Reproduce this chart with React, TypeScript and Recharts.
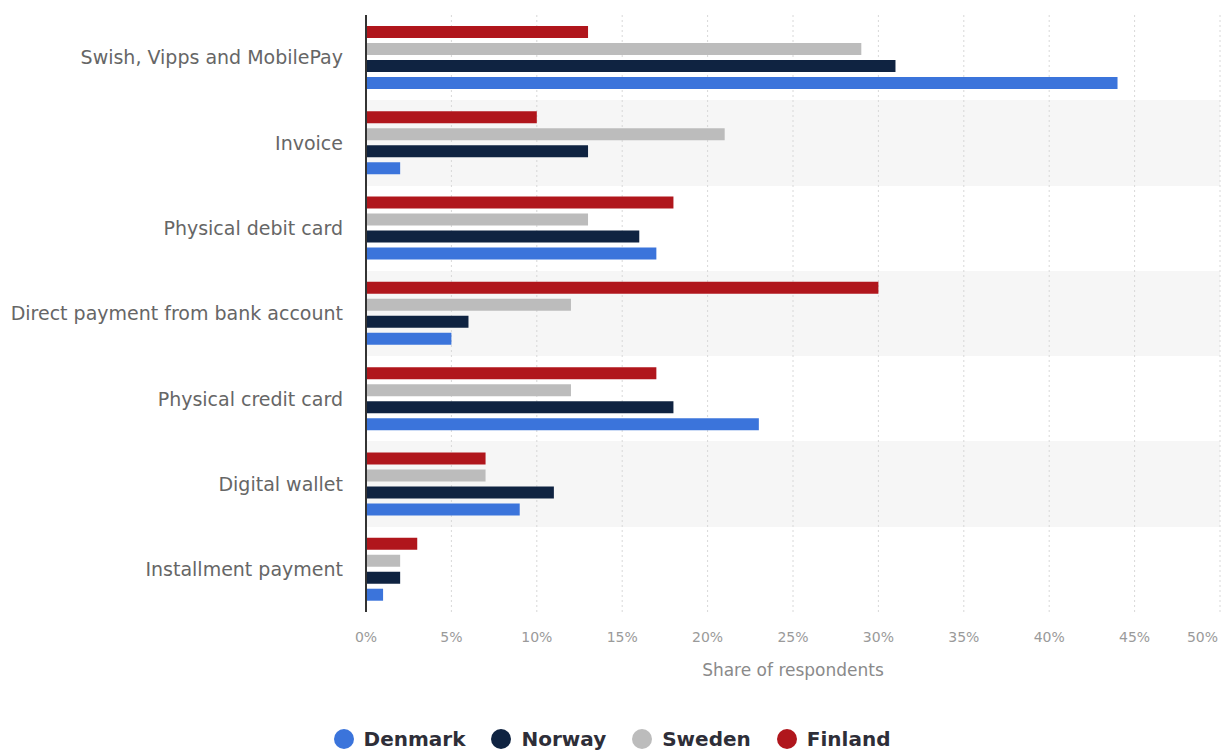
import React from 'react';
import {
  BarChart,
  Bar,
  XAxis,
  YAxis,
  CartesianGrid,
} from 'recharts';

const categories = [
  'Swish, Vipps and MobilePay',
  'Invoice',
  'Physical debit card',
  'Direct payment from bank account',
  'Physical credit card',
  'Digital wallet',
  'Installment payment',
];

const denmark = [44, 2, 17, 5, 23, 9, 1];
const norway = [31, 13, 16, 6, 18, 11, 2];
const sweden = [29, 21, 13, 12, 12, 7, 2];
const finland = [13, 10, 18, 30, 17, 7, 3];

const xTicks = [0, 5, 10, 15, 20, 25, 30, 35, 40, 45, 50];

// legend order (left to right)
const legendItems = [
  { name: 'Denmark', color: '#3b74db' },
  { name: 'Norway', color: '#0f2341' },
  { name: 'Sweden', color: '#bcbcbc' },
  { name: 'Finland', color: '#b0161c' },
];

const data = categories.map((name, i) => ({
  name,
  Denmark: denmark[i],
  Norway: norway[i],
  Sweden: sweden[i],
  Finland: finland[i],
}));

const FONT = '"DejaVu Sans", sans-serif';

// row boundaries, so every other category row gets a light band
const rowEdges = ({ offset }: any) =>
  categories.map((_, k) => offset.top + (k * offset.height) / categories.length);

const XTick = (props: any) => {
  const { x, y, payload, index } = props;
  const last = index === xTicks.length - 1;
  return (
    <text
      x={last ? x + 2 : x}
      y={y}
      dy="0.71em"
      textAnchor={last ? 'end' : 'middle'}
      fill="#9a9a9a"
      fontSize={14}
      fontFamily={FONT}
    >
      {`${payload.value}%`}
    </text>
  );
};

const App: React.FC = () => {
  return (
    <div style={{ position: 'absolute', left: 0, top: 0, width: 1224, height: 750, background: '#fff' }}>
      <BarChart
        width={1224}
        height={750}
        data={data}
        layout="vertical"
        margin={{ top: 15, right: 4, left: 0, bottom: 68 }}
        barSize={12}
        barGap={5}
      >
        <CartesianGrid
          vertical={false}
          stroke="transparent"
          horizontalFill={['#ffffff', '#f6f6f6']}
          fillOpacity={1}
          horizontalCoordinatesGenerator={rowEdges}
        />
        <CartesianGrid horizontal={false} stroke="#d8d8d8" strokeDasharray="2 3" />
        <XAxis
          type="number"
          domain={[0, 50]}
          ticks={xTicks}
          axisLine={false}
          tickLine={false}
          tickMargin={14}
          tick={<XTick />}
          height={70}
          label={{
            value: 'Share of respondents',
            position: 'insideBottom',
            offset: 6,
            fill: '#8a8a8a',
            fontSize: 17,
            fontFamily: FONT,
          }}
        />
        <YAxis
          type="category"
          dataKey="name"
          width={366}
          tickLine={false}
          tickMargin={17}
          axisLine={{ stroke: '#333', strokeWidth: 2 }}
          tick={{ fill: '#666', fontSize: 19, fontFamily: FONT }}
        />
        <Bar dataKey="Finland" fill="#b0161c" isAnimationActive={false} />
        <Bar dataKey="Sweden" fill="#bcbcbc" isAnimationActive={false} />
        <Bar dataKey="Norway" fill="#0f2341" isAnimationActive={false} />
        <Bar dataKey="Denmark" fill="#3b74db" isAnimationActive={false} />
      </BarChart>
      <div
        style={{
          position: 'absolute',
          top: 727,
          left: 0,
          width: 1224,
          display: 'flex',
          justifyContent: 'center',
          gap: 26,
          fontFamily: FONT,
          fontWeight: 'bold',
          fontSize: 20,
          color: '#2e2e38',
        }}
      >
        {legendItems.map((item) => (
          <div key={item.name} style={{ display: 'flex', alignItems: 'center' }}>
            <span
              style={{
                width: 20,
                height: 20,
                borderRadius: '50%',
                background: item.color,
                marginRight: 10,
                display: 'inline-block',
              }}
            />
            <span>{item.name}</span>
          </div>
        ))}
      </div>
    </div>
  );
};

export default App;
